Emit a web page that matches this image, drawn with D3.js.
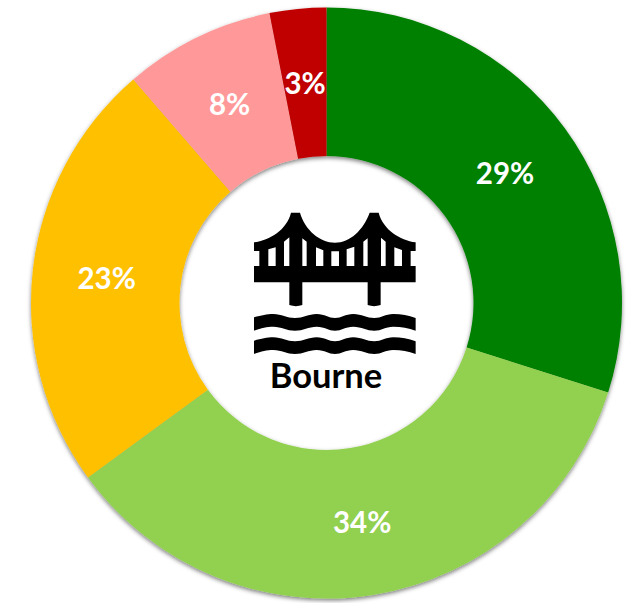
<!DOCTYPE html>
<html>
<head>
<meta charset="utf-8">
<script src="https://cdnjs.cloudflare.com/ajax/libs/d3/7.8.5/d3.min.js"></script>
<style>
html, body { margin: 0; padding: 0; background: #fff; overflow: hidden; }
svg { display: block; }
</style>
</head>
<body>
<script>
// donut for Bourne, labels show the rounded percents
var categories = ["a", "b", "c", "d", "e"];
var values = [29, 34, 23, 8, 3];
var colors = ["#008000", "#92d050", "#ffc000", "#ff9999", "#c00000"];
var title = "Bourne";

var width = 633, height = 603;
var cx = 326.5, cy = 303, outerR = 295.5, innerR = 147;

var svg = d3.select("body").append("svg")
    .attr("width", width)
    .attr("height", height);

var defs = svg.append("defs");
var shadow = defs.append("filter")
    .attr("id", "shadow")
    .attr("x", "-5%").attr("y", "-5%")
    .attr("width", "110%").attr("height", "110%");
shadow.append("feDropShadow")
    .attr("dx", 0).attr("dy", 2)
    .attr("stdDeviation", 2)
    .attr("flood-color", "#000")
    .attr("flood-opacity", 0.5);

var pie = d3.pie().sort(null).value(function(d) { return d; });
var arc = d3.arc().innerRadius(innerR).outerRadius(outerR);

var chart = svg.append("g").attr("transform", "translate(" + cx + "," + cy + ")");

chart.append("g")
    .attr("filter", "url(#shadow)")
    .selectAll("path")
    .data(pie(values))
    .enter()
    .append("path")
    .attr("d", arc)
    .style("fill", function(d, i) { return colors[i]; });

chart.selectAll("text")
    .data(pie(values))
    .enter()
    .append("text")
    .attr("transform", function(d) { return "translate(" + arc.centroid(d) + ")"; })
    .attr("text-anchor", "middle")
    .attr("dy", "0.38em")
    .style("font-family", "Lato")
    .style("font-weight", 700)
    .style("font-size", "29.5px")
    .style("fill", "#fff")
    .text(function(d) { return d.value + "%"; });

// bridge icon, drawn in 3x units
var icon = svg.append("g").attr("transform", "translate(220,190) scale(0.3333)");

icon.append("path")
    .attr("fill", "#000")
    .attr("fill-rule", "evenodd")
    .attr("d", "M102 157 C150 150 200 120 213 68 L240 68 C255 120 300 158 345 158 C390 158 430 120 449 68 L476 68 C490 120 540 150 587 157 L587 183 L572 183 L572 228 L587 228 L587 277 L482 277 L482 345 Q462 352 443 345 L443 277 L247 277 L247 345 Q228 352 208 345 L208 277 L102 277 L102 228 L118 228 L118 183 L102 183 Z" +
        "M145 178 L167 172 L167 228 L145 228 Z" +
        "M192 155 L208 142 L208 228 L192 228 Z" +
        "M247 145 L260 155 L260 228 L247 228 Z" +
        "M288 172 L310 181 L310 228 L288 228 Z" +
        "M334 184 L357 184 L357 228 L334 228 Z" +
        "M380 178 L403 170 L403 228 L380 228 Z" +
        "M430 155 L443 145 L443 228 L430 228 Z" +
        "M483 143 L497 155 L497 228 L483 228 Z" +
        "M523 172 L546 180 L546 228 L523 228 Z");

// two wavy bands under the bridge
[0, 70].forEach(function(off) {
    icon.append("path")
        .attr("fill", "#000")
        .attr("transform", "translate(0," + off + ")")
        .attr("d", "M102 382 C125 376 140 372 160 372 C185 372 200 384 225 384 C250 384 265 372 290 372 C315 372 325 384 345 384 C365 384 375 372 400 372 C425 372 440 384 463 384 C485 384 495 372 520 372 C545 372 565 376 587 384 L587 422 C565 414 545 410 520 410 C495 410 485 422 463 422 C440 422 425 410 400 410 C375 410 365 422 345 422 C325 422 315 410 290 410 C265 410 250 422 225 422 C200 422 185 410 160 410 C140 410 125 414 102 422 Z");
});

svg.append("text")
    .attr("x", 326)
    .attr("y", 388)
    .attr("text-anchor", "middle")
    .style("font-family", "Lato")
    .style("font-weight", 700)
    .style("font-size", "34.5px")
    .style("fill", "#000")
    .text(title);
</script>
</body>
</html>
